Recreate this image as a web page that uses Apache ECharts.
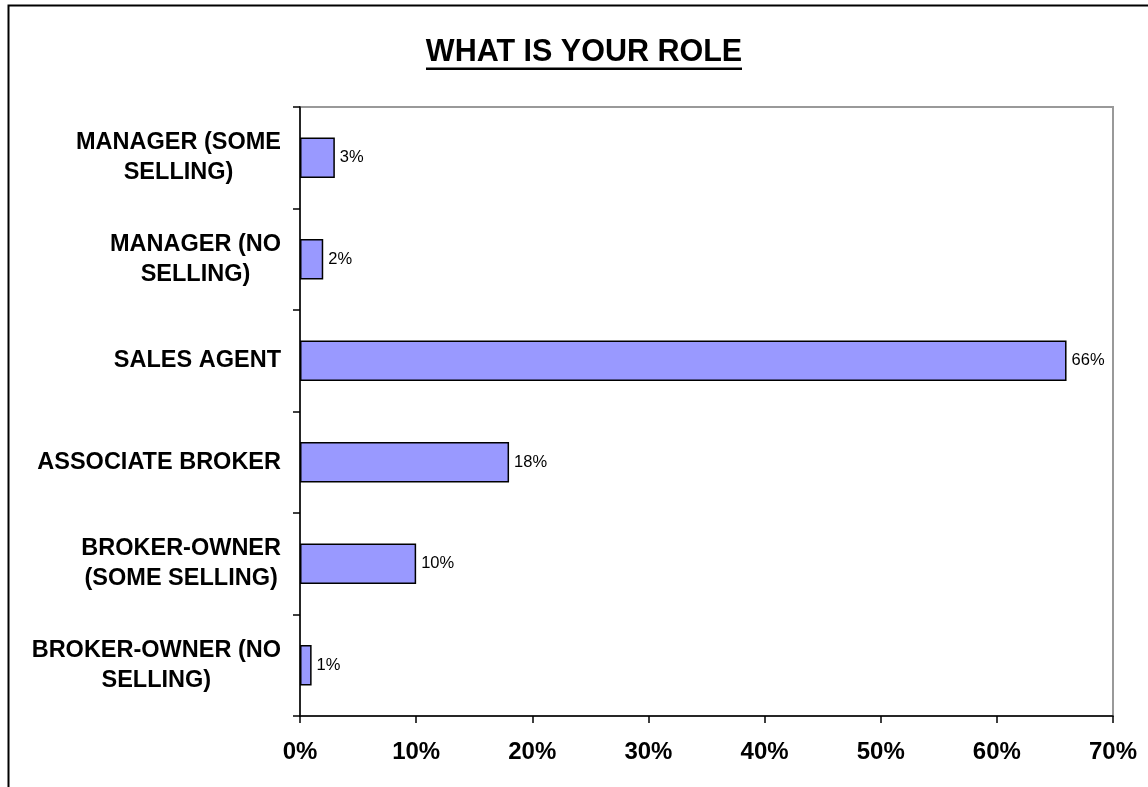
<!DOCTYPE html>
<html>
<head>
<meta charset="utf-8">
<title>WHAT IS YOUR ROLE</title>
<script src="https://cdn.jsdelivr.net/npm/echarts@6/dist/echarts.min.js"></script>
<style>
  html, body { margin: 0; padding: 0; background: #fff; }
  #chart { width: 1148px; height: 787px; }
</style>
</head>
<body>
<div id="chart"></div>
<script>
// Survey answers, listed top to bottom as drawn
const roles = [
  'MANAGER (SOME\nSELLING)',
  'MANAGER (NO\nSELLING)',
  'SALES AGENT',
  'ASSOCIATE BROKER',
  'BROKER-OWNER\n(SOME SELLING)',
  'BROKER-OWNER (NO\nSELLING)'
];
const shares = [3, 2, 66, 18, 10, 1];   // percent of respondents
const percentTicks = { min: 0, max: 70, interval: 10 };
const chartTitle = 'WHAT IS YOUR ROLE';

const FONT = 'Arial, "Liberation Sans", Helvetica, sans-serif';

const chart = echarts.init(document.getElementById('chart'), null, { renderer: 'canvas' });

chart.setOption({
  backgroundColor: '#ffffff',
  animation: false,
  textStyle: { fontFamily: FONT },
  grid: {
    left: 300, right: 35, top: 107, bottom: 71,
    show: true,
    borderColor: '#999999',
    borderWidth: 2,
    backgroundColor: 'transparent'
  },
  xAxis: {
    type: 'value',
    min: percentTicks.min,
    max: percentTicks.max,
    interval: percentTicks.interval,
    axisLine: { show: true, onZero: false, lineStyle: { color: '#000', width: 1.5 } },
    axisTick: { show: true, length: 7, lineStyle: { color: '#000', width: 1.5 } },
    splitLine: { show: false },
    axisLabel: {
      margin: 24,
      color: '#000',
      fontSize: 24,
      fontWeight: 'bold',
      fontFamily: FONT,
      formatter: v => v + '%'
    }
  },
  yAxis: {
    type: 'category',
    inverse: true,
    data: roles,
    axisLine: { show: true, lineStyle: { color: '#000', width: 1.5 } },
    axisTick: { show: true, length: 7, lineStyle: { color: '#000', width: 1.5 } },
    splitLine: { show: false },
    axisLabel: {
      margin: 19,
      align: 'right',
      color: '#000',
      fontFamily: FONT,
      formatter: v => v.split('\n').map(l => '{c|' + l + '}').join('\n'),
      rich: {
        c: {
          align: 'center',
          fontSize: 23.5,
          fontWeight: 'bold',
          lineHeight: 30,
          color: '#000',
          fontFamily: FONT
        }
      }
    }
  },
  series: [{
    type: 'bar',
    data: shares,
    barWidth: '40%',
    itemStyle: { color: '#9999FF', borderColor: '#000', borderWidth: 1.5 },
    label: {
      show: true,
      position: 'right',
      distance: 5,
      color: '#000',
      fontSize: 16.5,
      fontFamily: FONT,
      formatter: p => p.value + '%'
    }
  }],
  graphic: [
    {
      // outer frame of the chart area
      type: 'rect',
      silent: true,
      shape: { x: 8.5, y: 5.5, width: 1200, height: 900 },
      style: { fill: null, stroke: '#000', lineWidth: 2 }
    },
    {
      type: 'text',
      silent: true,
      x: 584,
      y: 52.5,
      style: {
        text: chartTitle,
        fill: '#000',
        font: 'bold 30.5px ' + FONT,
        align: 'center',
        verticalAlign: 'middle'
      }
    },
    {
      // title underline
      type: 'line',
      silent: true,
      shape: { x1: 426, y1: 68.7, x2: 742, y2: 68.7 },
      style: { stroke: '#000', lineWidth: 2.5 }
    }
  ]
});
</script>
</body>
</html>
